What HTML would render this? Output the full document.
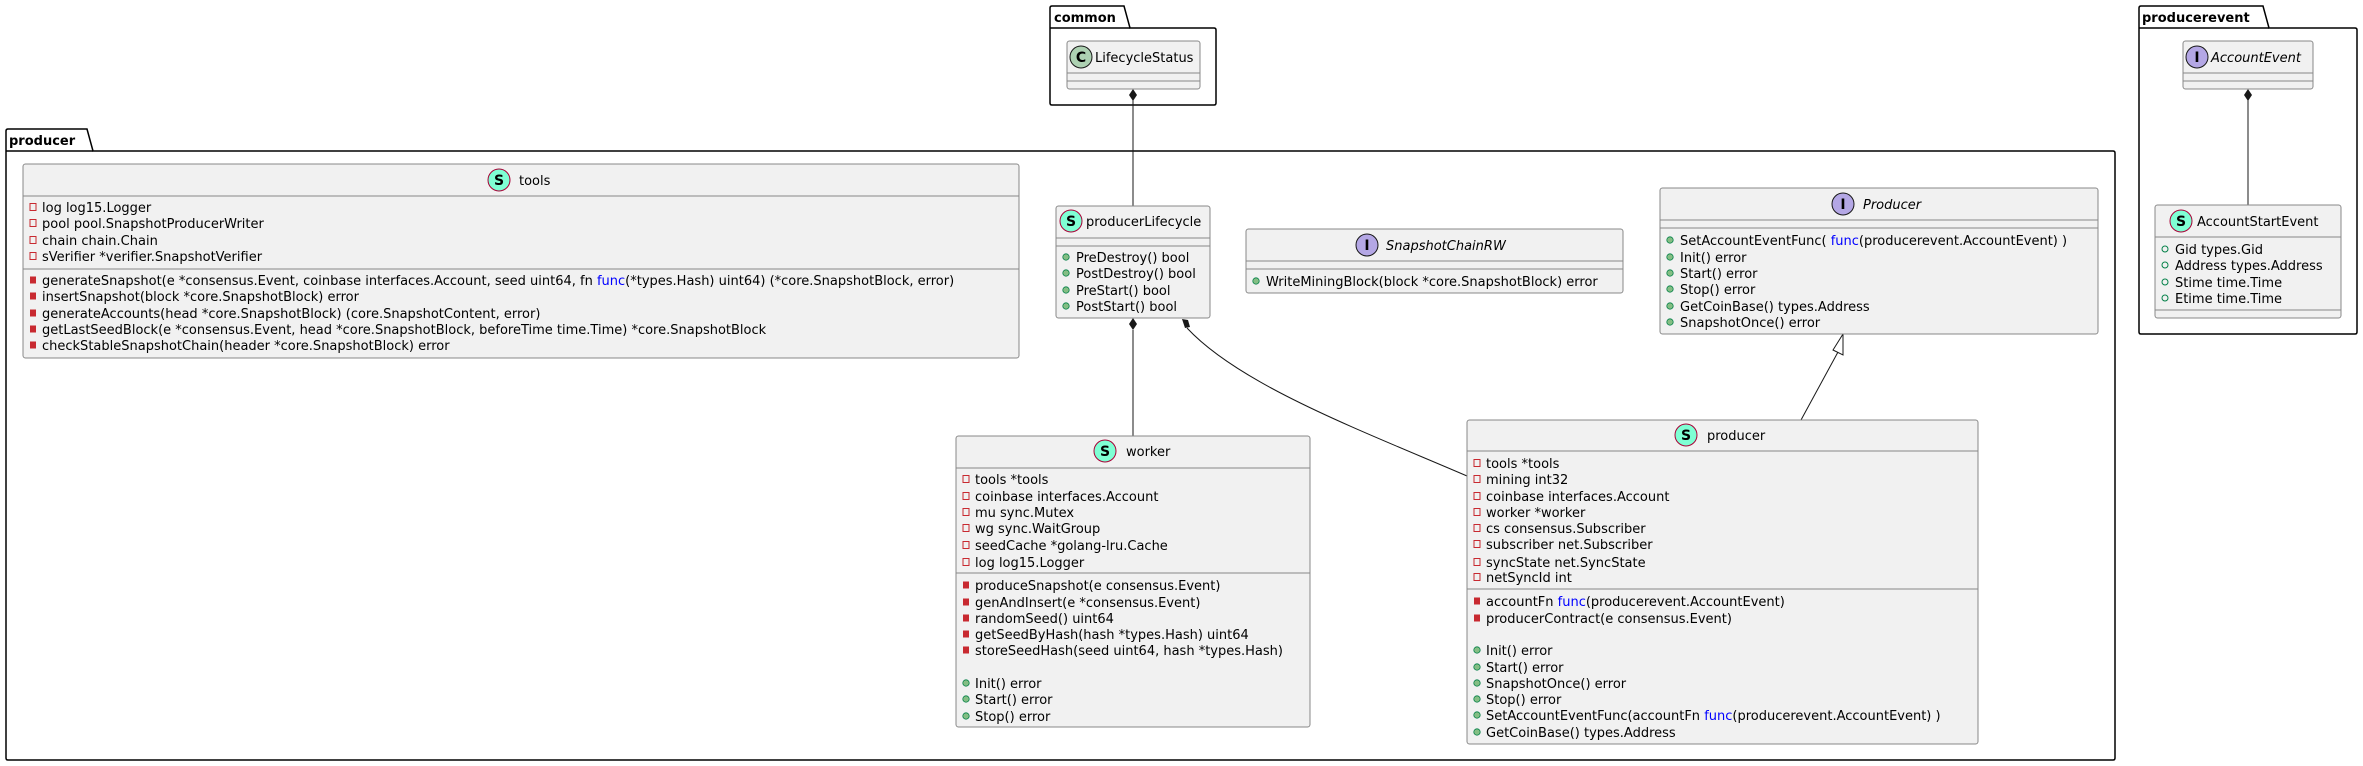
<!DOCTYPE html>
<html><head><meta charset="utf-8"><style>
html,body{margin:0;padding:0;background:#fff;}
svg{display:block;}
text{font-family:"DejaVu Sans","Liberation Sans",sans-serif;font-size:13px;fill:#000;}
.b{fill:#F1F1F1;stroke:#888;stroke-width:1;}
.pk{fill:#fff;stroke:#000;stroke-width:1.5;}
.sep{stroke:#888;stroke-width:1;}
.it{font-style:italic;}
.bl{fill:#0000FF;}
</style></head><body>
<svg width="2363" height="766" xmlns="http://www.w3.org/2000/svg">
<defs>
<g id="pf"><rect x="-3" y="-3.5" width="6" height="7" fill="none" stroke="#C82930" stroke-width="1"/></g>
<g id="pm"><rect x="-3" y="-3.5" width="6" height="7" fill="#C82930"/></g>
<g id="um"><circle r="3.2" fill="#84BE84" stroke="#038048" stroke-width="0.8"/></g>
<g id="uf"><circle r="3" fill="none" stroke="#038048" stroke-width="1"/></g>
</defs>

<!-- packages -->
<path class="pk" d="M1050,28 L1050,8 Q1050,6 1052,6 L1124,6 L1130,28 L1214,28 Q1216,28 1216,30 L1216,103 Q1216,105 1214,105 L1052,105 Q1050,105 1050,103 Z"/>
<line x1="1050" y1="28" x2="1130" y2="28" stroke="#000" stroke-width="1.5"/>
<text x="1054" y="22" style="font-weight:bold">common</text>

<path class="pk" d="M2139,28 L2139,8 Q2139,6 2141,6 L2263,6 L2269,28 L2355,28 Q2357,28 2357,30 L2357,332 Q2357,334 2355,334 L2141,334 Q2139,334 2139,332 Z"/>
<line x1="2139" y1="28" x2="2269" y2="28" stroke="#000" stroke-width="1.5"/>
<text x="2142" y="22" style="font-weight:bold">producerevent</text>

<path class="pk" d="M6,151 L6,131 Q6,129 8,129 L87,129 L93,151 L2113,151 Q2115,151 2115,153 L2115,758 Q2115,760 2113,760 L8,760 Q6,760 6,758 Z"/>
<line x1="6" y1="151" x2="93" y2="151" stroke="#000" stroke-width="1.5"/>
<text x="9" y="145" style="font-weight:bold">producer</text>

<!-- connectors -->
<line x1="1133" y1="100" x2="1133" y2="206" stroke="#181818"/>
<polygon points="1133,89 1137,95 1133,101 1129,95" fill="#181818"/>
<line x1="1133" y1="330" x2="1133" y2="436" stroke="#181818"/>
<polygon points="1133,318 1137,324 1133,330 1129,324" fill="#181818"/>
<path d="M1187,328 C1240,385 1360,430 1467,476" fill="none" stroke="#181818"/>
<polygon points="1182,319 1188,320 1190,327 1185,328" fill="#181818"/>
<line x1="2248" y1="100" x2="2248" y2="205" stroke="#181818"/>
<polygon points="2248,89 2252,95 2248,101 2244,95" fill="#181818"/>
<line x1="1838" y1="352" x2="1801" y2="420" stroke="#181818"/>
<polygon points="1843,334 1833,350 1843,355" fill="#fff" stroke="#181818"/>

<!-- LifecycleStatus -->
<rect class="b" x="1067" y="41" width="133" height="48" rx="2.5"/>
<line class="sep" x1="1067" y1="73" x2="1200" y2="73"/><line class="sep" x1="1067" y1="81" x2="1200" y2="81"/>
<circle cx="1081" cy="57" r="11" fill="#ADD1B2" stroke="#181818"/><text x="1081" y="62" text-anchor="middle" style="font-weight:bold;font-size:14px">C</text>
<text x="1095" y="62">LifecycleStatus</text>

<!-- tools -->
<rect class="b" x="23" y="164" width="996" height="194" rx="2.5"/>
<line class="sep" x1="23" y1="196" x2="1019" y2="196"/><line class="sep" x1="23" y1="269" x2="1019" y2="269"/>
<circle cx="499" cy="180" r="11" fill="#7FFFD4" stroke="#A80036"/><text x="499" y="185" text-anchor="middle" style="font-weight:bold;font-size:14px">S</text>
<text x="519" y="185">tools</text>
<use href="#pf" x="33" y="207"/><text x="42" y="212">log log15.Logger</text>
<use href="#pf" x="33" y="223"/><text x="42" y="228">pool pool.SnapshotProducerWriter</text>
<use href="#pf" x="33" y="240"/><text x="42" y="245">chain chain.Chain</text>
<use href="#pf" x="33" y="256"/><text x="42" y="261">sVerifier *verifier.SnapshotVerifier</text>
<use href="#pm" x="33" y="280"/><text x="42" y="285">generateSnapshot(e *consensus.Event, coinbase interfaces.Account, seed uint64, fn <tspan class="bl">func</tspan>(*types.Hash) uint64) (*core.SnapshotBlock, error)</text>
<use href="#pm" x="33" y="296"/><text x="42" y="301">insertSnapshot(block *core.SnapshotBlock) error</text>
<use href="#pm" x="33" y="313"/><text x="42" y="318">generateAccounts(head *core.SnapshotBlock) (core.SnapshotContent, error)</text>
<use href="#pm" x="33" y="329"/><text x="42" y="334">getLastSeedBlock(e *consensus.Event, head *core.SnapshotBlock, beforeTime time.Time) *core.SnapshotBlock</text>
<use href="#pm" x="33" y="345"/><text x="42" y="350">checkStableSnapshotChain(header *core.SnapshotBlock) error</text>

<!-- producerLifecycle -->
<rect class="b" x="1056" y="206" width="154" height="112" rx="2.5"/>
<line class="sep" x1="1056" y1="238" x2="1210" y2="238"/><line class="sep" x1="1056" y1="246" x2="1210" y2="246"/>
<circle cx="1071" cy="221" r="11" fill="#7FFFD4" stroke="#A80036"/><text x="1071" y="226" text-anchor="middle" style="font-weight:bold;font-size:14px">S</text>
<text x="1086" y="226">producerLifecycle</text>
<use href="#um" x="1066" y="257"/><text x="1076" y="262">PreDestroy() bool</text>
<use href="#um" x="1066" y="273"/><text x="1076" y="278">PostDestroy() bool</text>
<use href="#um" x="1066" y="290"/><text x="1076" y="295">PreStart() bool</text>
<use href="#um" x="1066" y="306"/><text x="1076" y="311">PostStart() bool</text>

<!-- SnapshotChainRW -->
<rect class="b" x="1246" y="229" width="377" height="64" rx="2.5"/>
<line class="sep" x1="1246" y1="261" x2="1623" y2="261"/><line class="sep" x1="1246" y1="269" x2="1623" y2="269"/>
<circle cx="1367" cy="245" r="11" fill="#B4A7E5" stroke="#181818"/><text x="1367" y="250" text-anchor="middle" style="font-weight:bold;font-size:14px">I</text>
<text x="1386" y="250" class="it">SnapshotChainRW</text>
<use href="#um" x="1256" y="281"/><text x="1266" y="286">WriteMiningBlock(block *core.SnapshotBlock) error</text>

<!-- Producer interface -->
<rect class="b" x="1660" y="188" width="438" height="146" rx="2.5"/>
<line class="sep" x1="1660" y1="220" x2="2098" y2="220"/><line class="sep" x1="1660" y1="228" x2="2098" y2="228"/>
<circle cx="1843" cy="204" r="11" fill="#B4A7E5" stroke="#181818"/><text x="1843" y="209" text-anchor="middle" style="font-weight:bold;font-size:14px">I</text>
<text x="1863" y="209" class="it">Producer</text>
<use href="#um" x="1670" y="240"/><text x="1680" y="245">SetAccountEventFunc( <tspan class="bl">func</tspan>(producerevent.AccountEvent) )</text>
<use href="#um" x="1670" y="257"/><text x="1680" y="262">Init() error</text>
<use href="#um" x="1670" y="273"/><text x="1680" y="278">Start() error</text>
<use href="#um" x="1670" y="289"/><text x="1680" y="294">Stop() error</text>
<use href="#um" x="1670" y="306"/><text x="1680" y="311">GetCoinBase() types.Address</text>
<use href="#um" x="1670" y="322"/><text x="1680" y="327">SnapshotOnce() error</text>

<!-- AccountEvent -->
<rect class="b" x="2183" y="41" width="130" height="48" rx="2.5"/>
<line class="sep" x1="2183" y1="73" x2="2313" y2="73"/><line class="sep" x1="2183" y1="81" x2="2313" y2="81"/>
<circle cx="2197" cy="57" r="11" fill="#B4A7E5" stroke="#181818"/><text x="2197" y="62" text-anchor="middle" style="font-weight:bold;font-size:14px">I</text>
<text x="2211" y="62" class="it">AccountEvent</text>

<!-- AccountStartEvent -->
<rect class="b" x="2155" y="205" width="186" height="113" rx="2.5"/>
<line class="sep" x1="2155" y1="237" x2="2341" y2="237"/><line class="sep" x1="2155" y1="310" x2="2341" y2="310"/>
<circle cx="2181" cy="221" r="11" fill="#7FFFD4" stroke="#A80036"/><text x="2181" y="226" text-anchor="middle" style="font-weight:bold;font-size:14px">S</text>
<text x="2197" y="226">AccountStartEvent</text>
<use href="#uf" x="2165" y="249"/><text x="2175" y="254">Gid types.Gid</text>
<use href="#uf" x="2165" y="265"/><text x="2175" y="270">Address types.Address</text>
<use href="#uf" x="2165" y="282"/><text x="2175" y="287">Stime time.Time</text>
<use href="#uf" x="2165" y="298"/><text x="2175" y="303">Etime time.Time</text>

<!-- worker -->
<rect class="b" x="956" y="436" width="354" height="291" rx="2.5"/>
<line class="sep" x1="956" y1="468" x2="1310" y2="468"/><line class="sep" x1="956" y1="573" x2="1310" y2="573"/>
<circle cx="1105" cy="451" r="11" fill="#7FFFD4" stroke="#A80036"/><text x="1105" y="456" text-anchor="middle" style="font-weight:bold;font-size:14px">S</text>
<text x="1126" y="456">worker</text>
<use href="#pf" x="966" y="479"/><text x="975" y="484">tools *tools</text>
<use href="#pf" x="966" y="496"/><text x="975" y="501">coinbase interfaces.Account</text>
<use href="#pf" x="966" y="512"/><text x="975" y="517">mu sync.Mutex</text>
<use href="#pf" x="966" y="528"/><text x="975" y="533">wg sync.WaitGroup</text>
<use href="#pf" x="966" y="545"/><text x="975" y="550">seedCache *golang-lru.Cache</text>
<use href="#pf" x="966" y="562"/><text x="975" y="567">log log15.Logger</text>
<use href="#pm" x="966" y="585"/><text x="975" y="590">produceSnapshot(e consensus.Event)</text>
<use href="#pm" x="966" y="602"/><text x="975" y="607">genAndInsert(e *consensus.Event)</text>
<use href="#pm" x="966" y="618"/><text x="975" y="623">randomSeed() uint64</text>
<use href="#pm" x="966" y="634"/><text x="975" y="639">getSeedByHash(hash *types.Hash) uint64</text>
<use href="#pm" x="966" y="650"/><text x="975" y="655">storeSeedHash(seed uint64, hash *types.Hash)</text>
<use href="#um" x="966" y="683"/><text x="975" y="688">Init() error</text>
<use href="#um" x="966" y="699"/><text x="975" y="704">Start() error</text>
<use href="#um" x="966" y="716"/><text x="975" y="721">Stop() error</text>

<!-- producer struct -->
<rect class="b" x="1467" y="420" width="511" height="324" rx="2.5"/>
<line class="sep" x1="1467" y1="451" x2="1978" y2="451"/><line class="sep" x1="1467" y1="589" x2="1978" y2="589"/>
<circle cx="1686" cy="435" r="11" fill="#7FFFD4" stroke="#A80036"/><text x="1686" y="440" text-anchor="middle" style="font-weight:bold;font-size:14px">S</text>
<text x="1707" y="440">producer</text>
<use href="#pf" x="1477" y="463"/><text x="1486" y="468">tools *tools</text>
<use href="#pf" x="1477" y="479"/><text x="1486" y="484">mining int32</text>
<use href="#pf" x="1477" y="496"/><text x="1486" y="501">coinbase interfaces.Account</text>
<use href="#pf" x="1477" y="512"/><text x="1486" y="517">worker *worker</text>
<use href="#pf" x="1477" y="528"/><text x="1486" y="533">cs consensus.Subscriber</text>
<use href="#pf" x="1477" y="544"/><text x="1486" y="549">subscriber net.Subscriber</text>
<use href="#pf" x="1477" y="562"/><text x="1486" y="567">syncState net.SyncState</text>
<use href="#pf" x="1477" y="577"/><text x="1486" y="582">netSyncId int</text>
<use href="#pm" x="1477" y="601"/><text x="1486" y="606">accountFn <tspan class="bl">func</tspan>(producerevent.AccountEvent)</text>
<use href="#pm" x="1477" y="618"/><text x="1486" y="623">producerContract(e consensus.Event)</text>
<use href="#um" x="1477" y="650"/><text x="1486" y="655">Init() error</text>
<use href="#um" x="1477" y="667"/><text x="1486" y="672">Start() error</text>
<use href="#um" x="1477" y="683"/><text x="1486" y="688">SnapshotOnce() error</text>
<use href="#um" x="1477" y="699"/><text x="1486" y="704">Stop() error</text>
<use href="#um" x="1477" y="715"/><text x="1486" y="720">SetAccountEventFunc(accountFn <tspan class="bl">func</tspan>(producerevent.AccountEvent) )</text>
<use href="#um" x="1477" y="732"/><text x="1486" y="737">GetCoinBase() types.Address</text>
</svg>
</body></html>
